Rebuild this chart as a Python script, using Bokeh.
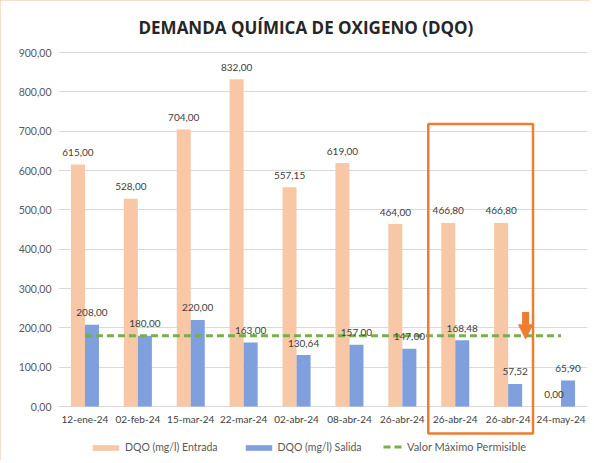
from bokeh.plotting import figure
from bokeh.models import (ColumnDataSource, FixedTicker, Legend, LegendItem,
                          BoxAnnotation, Arrow, NormalHead, Range1d)
from bokeh.core.properties import value
from bokeh.embed import file_html
from bokeh.resources import INLINE

# ---------------- data ----------------
categories = ["12-ene-24", "02-feb-24", "15-mar-24", "22-mar-24", "02-abr-24",
              "08-abr-24", "26-abr-24", "26-abr-24", "26-abr-24", "24-may-24"]
entrada = [615.00, 528.00, 704.00, 832.00, 557.15, 619.00, 464.00, 466.80, 466.80, 0.00]
salida = [208.00, 180.00, 220.00, 163.00, 130.64, 157.00, 147.00, 168.48, 57.52, 65.90]
limite = [180, 180, 180, 180, 180, 180, 180, 180, 180, 180]
y_ticks = [0, 100, 200, 300, 400, 500, 600, 700, 800, 900]

def fmt(v):
    return f"{v:,.2f}".replace(",", "X").replace(".", ",").replace("X", ".")

# ---------------- styles ----------------
C_ENT = "#F7C7A6"
C_SAL = "#7F9FDD"
C_LIM = "#76B04E"
C_BOX = "#ED7D31"
FONT = "Lato"
BAR_W = 0.265

idx = list(range(len(categories)))
src = ColumnDataSource(dict(
    x=idx,
    xe=[i - BAR_W / 2 for i in idx],
    xs=[i + BAR_W / 2 for i in idx],
    cat=categories,
    entrada=entrada,
    salida=salida,
    limite=limite,
    lab_e=[fmt(v) for v in entrada],
    lab_s=[fmt(v) for v in salida],
    ycat=[-30.5] * len(idx),
))

p = figure(width=590, height=460, output_backend="svg", toolbar_location=None,
           x_range=Range1d(-0.5, 9.5), y_range=Range1d(-132.2, 920.4),
           x_axis_location=None, min_border_left=58, min_border_right=3,
           min_border_top=44, min_border_bottom=2)
p.outline_line_color = None
p.background_fill_color = "white"
p.border_fill_color = "white"
p.styles = {"outline": "1px solid #F6D3BC", "outline-offset": "-1px"}

p.title.text = "DEMANDA QUÍMICA DE OXIGENO (DQO)"
p.title.align = "left"
p.title.offset = 80
p.title.text_font = "Open Sans"
p.title.text_font_style = "bold"
p.title.text_font_size = "17px"
p.title.text_color = "#262626"
p.title.standoff = 12

yax = p.yaxis[0]
yax.ticker = FixedTicker(ticks=y_ticks)
yax.major_label_overrides = {t: fmt(t) for t in y_ticks}
yax.axis_line_color = None
yax.major_tick_line_color = None
yax.minor_tick_line_color = None
yax.major_tick_out = 0
yax.major_label_standoff = 7
yax.major_label_text_font = FONT
yax.major_label_text_font_size = "10.5px"
yax.major_label_text_color = "#595959"

p.ygrid.ticker = FixedTicker(ticks=y_ticks)
p.ygrid.grid_line_color = "#D9D9D9"
p.xgrid.grid_line_color = None

r_e = p.vbar(x="xe", top="entrada", bottom=0, width=BAR_W, source=src,
             fill_color=C_ENT, line_color=None)
r_s = p.vbar(x="xs", top="salida", bottom=0, width=BAR_W, source=src,
             fill_color=C_SAL, line_color=None)
r_l = p.line(x="x", y="limite", source=src, line_color=C_LIM, line_width=3,
             line_dash="7 4")

lab_kw = dict(text_font=value(FONT), text_font_size="10px", text_color="#404040",
              text_align="center", text_baseline="middle", y_offset=-12, source=src)
p.text(x="xe", y="entrada", text="lab_e", **lab_kw)
p.text(x="xs", y="salida", text="lab_s", **lab_kw)

p.text(x="x", y="ycat", text="cat", source=src, text_font=value(FONT),
       text_font_size="10px", text_color="#404040", text_align="center",
       text_baseline="middle")

# highlight box and arrow (annotations)
p.add_layout(BoxAnnotation(left=6.49, right=8.47, top=718, bottom=-68.6,
                           fill_alpha=0, line_color=C_BOX, line_alpha=1.0,
                           line_width=2.5))
p.add_layout(Arrow(x_start=8.33, y_start=240, x_end=8.33, y_end=172,
                   line_color=C_BOX, line_width=7,
                   end=NormalHead(size=14, fill_color=C_BOX, line_color=C_BOX)))

leg1 = Legend(items=[LegendItem(label="DQO (mg/l) Entrada", renderers=[r_e]),
                     LegendItem(label="DQO (mg/l) Salida", renderers=[r_s])],
              orientation="horizontal", location=(31, 5), glyph_width=33,
              glyph_height=7, label_height=12, label_standoff=3, spacing=24,
              padding=0, margin=0, background_fill_alpha=0, border_line_color=None,
              label_text_font=FONT, label_text_font_size="10.5px",
              label_text_color="#595959")
leg2 = Legend(items=[LegendItem(label="Valor Máximo Permisible", renderers=[r_l])],
              orientation="horizontal", location=(325, 5), glyph_width=21,
              glyph_height=7, label_height=12, label_standoff=3,
              padding=0, margin=0, background_fill_alpha=0, border_line_color=None,
              label_text_font=FONT, label_text_font_size="11px",
              label_text_color="#595959")
p.add_layout(leg1)
p.add_layout(leg2)

open("out.html", "w").write(file_html(p, INLINE))
